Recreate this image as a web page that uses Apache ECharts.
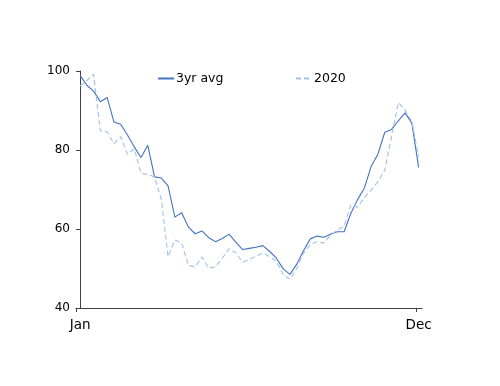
<!DOCTYPE html>
<html><head><meta charset="utf-8">
<script src="https://cdn.jsdelivr.net/npm/echarts@6/dist/echarts.min.js"></script>
<style>html,body{margin:0;padding:0;background:#fff}#c{width:500px;height:386px}</style>
</head><body><div id="c"></div>
<script>
const weekIndex = [0,1,2,3,4,5,6,7,8,9,10,11,12,13,14,15,16,17,18,19,20,21,22,23,24,25,26,27,28,29,30,31,32,33,34,35,36,37,38,39,40,41,42,43,44,45,46,47,48,49,50];
const avg3yr = [98.9,96.4,94.9,92.2,93.3,87.1,86.5,83.8,80.8,78.1,81.2,73.2,72.9,70.9,63.0,64.1,60.5,58.8,59.5,57.8,56.8,57.6,58.7,56.7,54.8,55.1,55.4,55.8,54.3,52.6,49.9,48.5,51.1,54.5,57.5,58.2,57.9,58.7,59.3,59.3,64.0,67.5,70.4,75.9,79.0,84.5,85.2,87.4,89.4,86.8,75.6];
const y2020 = [96.2,97.6,99.2,84.8,84.6,81.6,83.4,78.9,80.3,74.1,73.8,73.2,67.5,53.0,57.2,56.5,50.8,50.4,52.9,50.1,50.4,52.6,55.0,54.0,51.6,52.3,53.1,53.9,53.0,51.9,48.4,47.3,50.0,53.9,56.1,56.8,56.4,58.5,59.7,60.8,66.1,65.5,68.0,69.9,72.0,74.9,83.4,92.0,90.1,87.2,78.3];
const xTickLabels = ['Jan','Dec'];
const xTickIndex = [0,50];
const seriesNames = ['3yr avg','2020'];

const FONT = 'DejaVu Sans';
const chart = echarts.init(document.getElementById('c'), null, {renderer:'canvas'});
const pairs = arr => weekIndex.map((w,i)=>[w, arr[i]]);
const legendBase = {padding:0, top:72, itemWidth:16, itemHeight:14, itemGap:0,
  itemStyle:{opacity:0},
  textStyle:{fontFamily:FONT, fontSize:12.5, color:'#000', padding:[0,0,0,-3]}};
chart.setOption({
  animation:false,
  backgroundColor:'#fff',
  grid:{left:76, right:78, top:71, bottom:78, containLabel:false},
  legend:[
    Object.assign({}, legendBase, {data:[seriesNames[0]], left:157}),
    Object.assign({}, legendBase, {data:[seriesNames[1]], left:295})
  ],
  xAxis:{type:'value', min:-0.6, max:50.5,
    axisLine:{show:true, lineStyle:{color:'#404040', width:1}},
    axisTick:{show:true, length:4, customValues:[-0.5,49.6], lineStyle:{color:'#404040'}},
    axisLabel:{customValues:xTickIndex, formatter:v=>xTickLabels[xTickIndex.indexOf(v)] ?? '',
      fontFamily:FONT, fontSize:13.5, color:'#000', margin:10},
    splitLine:{show:false}},
  yAxis:{type:'value', min:40, max:100, interval:20,
    axisLine:{show:true, lineStyle:{color:'#404040', width:1}},
    axisTick:{show:true, length:4, inside:false, lineStyle:{color:'#404040'}},
    axisLabel:{fontFamily:FONT, fontSize:12, color:'#000', margin:6},
    splitLine:{show:false}},
  series:[
    {name:seriesNames[0], type:'line', data:pairs(avg3yr), symbol:'none',
     lineStyle:{color:'#4472c4', width:1.1}, itemStyle:{color:'#4472c4'}},
    {name:seriesNames[1], type:'line', data:pairs(y2020), symbol:'none',
     lineStyle:{color:'#9dc3e6', width:1.1, type:[5,3]}, itemStyle:{color:'#9dc3e6'}}
  ]
});
</script></body></html>
